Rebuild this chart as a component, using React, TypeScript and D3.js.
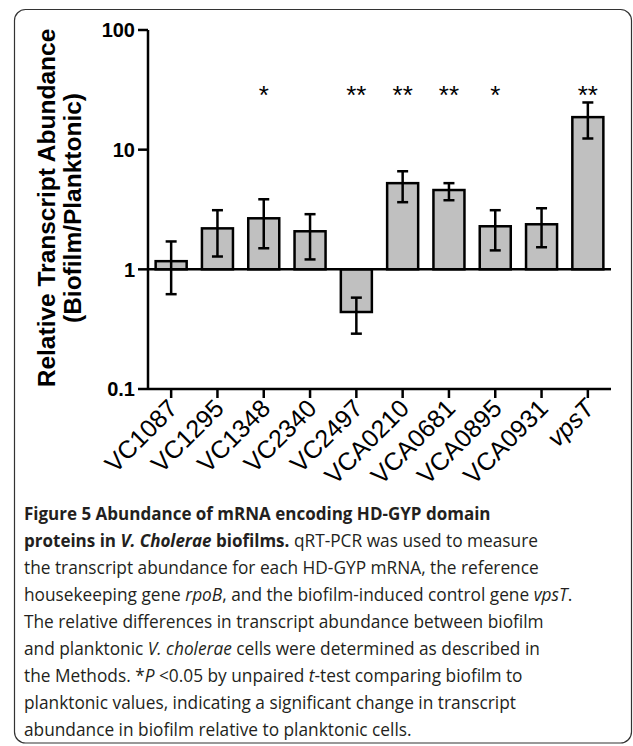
import React from 'react';
import * as d3 from 'd3';

const genes = ['VC1087', 'VC1295', 'VC1348', 'VC2340', 'VC2497', 'VCA0210', 'VCA0681', 'VCA0895', 'VCA0931', 'vpsT'];
const means = [1.17, 2.2, 2.67, 2.08, 0.44, 5.25, 4.6, 2.29, 2.38, 18.7];
const errHigh = [1.71, 3.12, 3.85, 2.89, 0.58, 6.6, 5.25, 3.12, 3.24, 24.8];
const errLow = [0.62, 1.28, 1.5, 1.21, 0.29, 3.64, 3.78, 1.44, 1.53, 12.4];
const stars = ['', '', '*', '', '**', '**', '**', '*', '', '**'];
const yTicks = [0.1, 1, 10, 100];
const yTickLabels = ['0.1', '1', '10', '100'];

// caption lines, each a list of [text, style] runs
const caption: [string, string][][] = [
  [['Figure 5 Abundance of mRNA encoding HD-GYP domain', 'b']],
  [['proteins in ', 'b'], ['V. Cholerae', 'bi'], [' biofilms.', 'b'], [' qRT-PCR was used to measure', 'r']],
  [['the transcript abundance for each HD-GYP mRNA, the reference', 'r']],
  [['housekeeping gene ', 'r'], ['rpoB', 'i'], [', and the biofilm-induced control gene ', 'r'], ['vpsT', 'i'], ['.', 'r']],
  [['The relative differences in transcript abundance between biofilm', 'r']],
  [['and planktonic ', 'r'], ['V. cholerae', 'i'], [' cells were determined as described in', 'r']],
  [['the Methods. *', 'r'], ['P', 'i'], [' <0.05 by unpaired ', 'r'], ['t', 'i'], ['-test comparing biofilm to', 'r']],
  [['planktonic values, indicating a significant change in transcript', 'r']],
  [['abundance in biofilm relative to planktonic cells.', 'r']],
];

const W = 633;
const H = 746;
const ARIAL = 'Liberation Sans, Arial, sans-serif';

export default function App() {
  const x = d3.scaleBand<string>().domain(genes).range([148, 611]).paddingInner(0.33).paddingOuter(0.165);
  const y = d3.scaleLog().domain([0.1, 100]).range([389, 30]);
  const bw = x.bandwidth();
  const y1 = y(1);

  return (
    <svg width={W} height={H} style={{ position: 'absolute', left: 0, top: 0 }}>
      <rect x={14.5} y={9.5} width={617} height={733.5} rx={11} fill="white" stroke="#333" strokeWidth={1.2} />

      {/* bars */}
      {genes.map((g, i) => {
        const top = Math.min(y(means[i]), y1);
        const h = Math.abs(y(means[i]) - y1);
        return <rect key={g} x={x(g)} y={top} width={bw} height={h} fill="#c0c0c0" stroke="#000" strokeWidth={2.5} />;
      })}

      {/* error bars */}
      {genes.map((g, i) => {
        const cx = x(g)! + bw / 2;
        return (
          <g key={'e' + g} stroke="#000" strokeWidth={2.5}>
            <line x1={cx} x2={cx} y1={y(errHigh[i])} y2={y(errLow[i])} />
            <line x1={cx - 5.5} x2={cx + 5.5} y1={y(errHigh[i])} y2={y(errHigh[i])} />
            <line x1={cx - 5.5} x2={cx + 5.5} y1={y(errLow[i])} y2={y(errLow[i])} />
          </g>
        );
      })}

      {/* baseline at 1 */}
      <line x1={148} x2={611} y1={y1} y2={y1} stroke="#000" strokeWidth={2.5} />

      {/* x axis */}
      <line x1={148} x2={611} y1={y(0.1)} y2={y(0.1)} stroke="#000" strokeWidth={2.5} />
      {genes.map(g => {
        const cx = x(g)! + bw / 2;
        return <line key={'t' + g} x1={cx} x2={cx} y1={y(0.1)} y2={y(0.1) + 9} stroke="#000" strokeWidth={2.5} />;
      })}
      {genes.map(g => {
        const cx = x(g)! + bw / 2;
        return (
          <text key={'l' + g} transform={`translate(${cx + 8},${y(0.1) + 21}) rotate(-45)`} textAnchor="end"
            fontFamily={ARIAL} fontSize={25} fontStyle={g === 'vpsT' ? 'italic' : 'normal'} fill="#000">{g}</text>
        );
      })}

      {/* y axis */}
      <line x1={148} x2={148} y1={y(0.1)} y2={y(100)} stroke="#000" strokeWidth={2.5} />
      {yTicks.map((t, i) => (
        <g key={'y' + t}>
          <line x1={138} x2={148} y1={y(t)} y2={y(t)} stroke="#000" strokeWidth={2.5} />
          <text x={135} y={y(t)} dy="0.36em" textAnchor="end" fontFamily={ARIAL} fontWeight="bold" fontSize={20}>{yTickLabels[i]}</text>
        </g>
      ))}
      <text transform="translate(55,208) rotate(-90)" textAnchor="middle" fontFamily={ARIAL} fontWeight="bold" fontSize={24.5}>Relative Transcript Abundance</text>
      <text transform="translate(81,208) rotate(-90)" textAnchor="middle" fontFamily={ARIAL} fontWeight="bold" fontSize={24.5}>(Biofilm/Planktonic)</text>

      {/* significance */}
      {genes.map((g, i) => (
        <text key={'s' + g} x={x(g)! + bw / 2} y={104} textAnchor="middle" fontFamily={ARIAL} fontSize={26}>{stars[i]}</text>
      ))}

      {/* caption */}
      {caption.map((line, li) => (
        <text key={'c' + li} x={24} y={520 + li * 27} fontFamily="'Open Sans', sans-serif" fill="#231f20">
          {line.map(([t, s], k) => (
            <tspan key={k} fontSize={s.includes('b') ? 17 : 17.3} fontWeight={s.includes('b') ? 'bold' : 'normal'}
              fontStyle={s.includes('i') ? 'italic' : 'normal'}>{t}</tspan>
          ))}
        </text>
      ))}
    </svg>
  );
}
